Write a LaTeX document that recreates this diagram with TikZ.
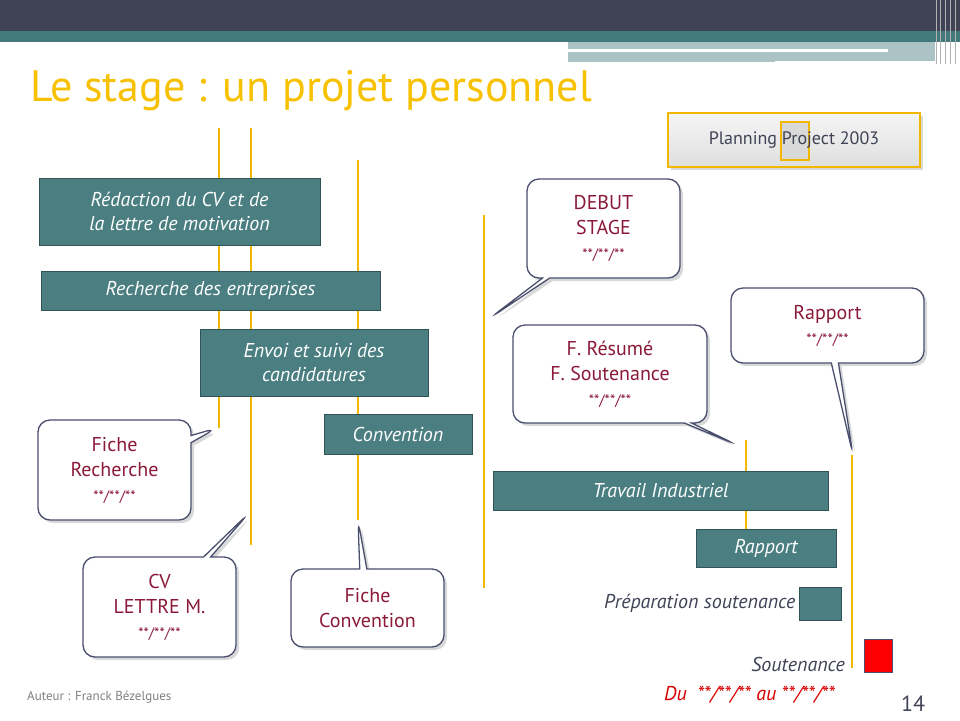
\documentclass[tikz,border=0pt]{standalone}
\usepackage{fontspec}
\setmainfont{PT Sans}
\usetikzlibrary{shapes.callouts,shadows}
\definecolor{dark}{HTML}{404355}
\definecolor{teal1}{HTML}{44797C}
\definecolor{boxc}{HTML}{4A7E80}
\definecolor{yel}{HTML}{F2B800}
\definecolor{titc}{HTML}{F7C100}
\definecolor{redt}{HTML}{8B1A3A}
\definecolor{brd}{HTML}{4A4F6E}
\tikzset{
 tbox/.style={draw=teal1!70!black,fill=boxc,text=white,font=\fontsize{20}{24}\selectfont\itshape,align=center,inner sep=0pt},
 vline/.style={yel,line width=2.2pt},
 call/.style={rectangle callout,draw=brd,line width=1.3pt,fill=white,rounded corners=12pt,align=center,text=redt,font=\fontsize{20}{25}\selectfont,drop shadow={opacity=0.3,shadow xshift=3pt,shadow yshift=-3pt},inner sep=0pt},
}
\newcommand{\dt}{{\fontsize{15}{20}\selectfont **/**/**}}
\begin{document}
\begin{tikzpicture}[x=1pt,y=-1pt]
\useasboundingbox (0,0) rectangle (960,720);
\fill[white] (0,0) rectangle (960,720);
\fill[dark] (0,0) rectangle (960,31);
\fill[teal1] (0,31) rectangle (960,42);
\fill[teal1!45!white] (568,42) rectangle (935,62);
\fill[white] (568,49) rectangle (888,52);
\fill[white] (775,61) rectangle (935,64);
\foreach \x in {936,940,945,950,955} \draw[gray!60,line width=1pt] (\x,0) -- (\x,64);
\node[anchor=base west,text=titc,font=\fontsize{44}{50}\selectfont,inner sep=0pt] (title) at (30,101) {Le stage : un projet personnel};
% planning box
\node[draw=yel,line width=1.5pt,top color=gray!8,bottom color=gray!25,minimum width=252pt,minimum height=54pt,inner sep=0pt,drop shadow={opacity=0.3}] (plan) at (794,140) {};
\node[draw=yel,line width=1.2pt,fill=gray!30,minimum width=28pt,minimum height=38pt,inner sep=0pt] (doc) at (795,141) {};
\node[text=dark,font=\fontsize{18}{22}\selectfont] (plant) at (plan.center) {Planning Project 2003};
% vertical lines
\coordinate (l1t) at (219,128); \coordinate (l1b) at (219,428);
\coordinate (l2t) at (251,128); \coordinate (l2b) at (251,545);
\coordinate (l3t) at (358,160); \coordinate (l3b) at (358,520);
\coordinate (l4t) at (484,215); \coordinate (l4b) at (484,588);
\coordinate (l5t) at (746,440); \coordinate (l5b) at (746,545);
\coordinate (l6t) at (852,455); \coordinate (l6b) at (852,668);
\foreach \a in {1,...,6} \draw[vline] (l\a t) -- (l\a b);
% teal boxes
\node[tbox,minimum width=281pt,minimum height=67pt] (b1) at (179.5,211.5) {Rédaction du CV et de\\la lettre de motivation};
\node[tbox,minimum width=339pt,minimum height=39pt] (b2) at (210.5,290.5) {Recherche des entreprises};
\node[tbox,minimum width=228pt,minimum height=67pt] (b3) at (314,362.5) {Envoi et suivi des\\candidatures};
\node[tbox,minimum width=148pt,minimum height=40pt] (b4) at (398,434) {Convention};
\node[tbox,minimum width=335pt,minimum height=39pt] (b5) at (660.5,490.5) {Travail Industriel};
\node[tbox,minimum width=140pt,minimum height=38pt] (b6) at (766,548) {Rapport};
\node[tbox,minimum width=42pt,minimum height=33pt] (b7) at (820,603.5) {};
\node[draw=brd,fill=red,minimum width=28pt,minimum height=33pt,inner sep=0pt] (rs) at (878,655.5) {};
\node[anchor=east,text=dark,font=\fontsize{20}{24}\selectfont\itshape] (prep) at (b7.west) {Préparation soutenance};
\node[anchor=base east,text=dark,font=\fontsize{20}{24}\selectfont\itshape,inner sep=0pt] (sout) at (845,671) {Soutenance};
\node[anchor=base west,text=red!85!black,font=\fontsize{20}{24}\selectfont\itshape,inner sep=0pt] (du) at (664,700) {Du \ **/**/** au **/**/**};
\node[anchor=base west,text=dark,font=\fontsize{22}{24}\selectfont,inner sep=0pt] (num) at (901,711) {14};
\node[anchor=base west,text=gray,font=\fontsize{13}{15}\selectfont,inner sep=0pt] (aut) at (27,700) {Auteur : Franck Bézelgues};
% callouts
\node[call,minimum width=153pt,minimum height=99pt,callout absolute pointer={(490,318)}] (c1) at (603.5,228.5) {DEBUT\\STAGE\\\dt};
\node[call,minimum width=193pt,minimum height=75pt,callout absolute pointer={(853,455)}] (c2) at (827.5,325.5) {Rapport\\\dt};
\node[call,minimum width=194pt,minimum height=98pt,callout absolute pointer={(737,445)}] (c3) at (610,374) {F. Résumé\\F. Soutenance\\\dt};
\node[call,minimum width=153pt,minimum height=100pt,callout absolute pointer={(217,428)}] (c4) at (114.5,470) {Fiche\\Recherche\\\dt};
\node[call,minimum width=153pt,minimum height=100pt,callout absolute pointer={(249,513)}] (c5) at (159.5,607) {CV\\LETTRE M.\\\dt};
\node[call,minimum width=153pt,minimum height=78pt,callout absolute pointer={(358,520)}] (c6) at (367.5,608) {Fiche\\Convention};
\end{tikzpicture}
\end{document}
